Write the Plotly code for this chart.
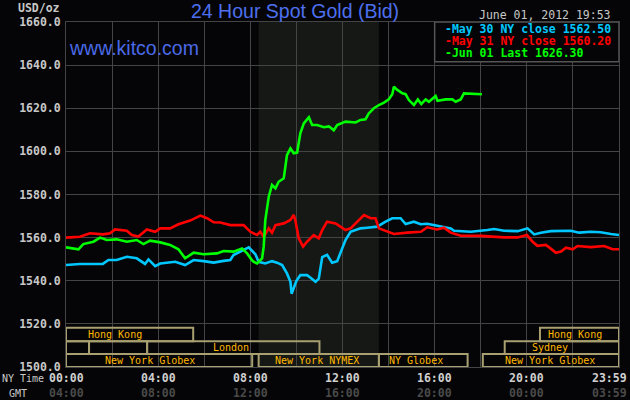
import plotly.graph_objects as go

# ---------------- data ----------------
may30_t = [0, 0.6, 1.6, 1.84, 2.2, 2.64, 3.07, 3.43, 3.58, 3.87, 4.09, 4.74, 5.17, 5.54, 5.97, 6.41,
           6.84, 7.13, 7.27, 7.57, 7.93, 8.22, 8.36, 8.65, 8.94, 9.16, 9.38, 9.59, 9.74, 9.79, 9.88,
           10.0, 10.17, 10.46, 10.6, 10.83, 10.97, 11.12, 11.33, 11.55, 11.77, 11.91, 12.13, 12.35,
           12.78, 13.07, 13.51, 13.87, 14.16, 14.52, 14.74, 15.1, 15.39, 15.68, 16.19, 16.7, 16.84,
           17.57, 18.29, 18.58, 19.01, 19.6, 20.03, 20.2, 20.32, 20.61, 21.04, 21.91, 22.27, 22.78,
           23.2, 23.65, 24]
may30_v = [1547.3, 1547.8, 1547.8, 1549.6, 1549.6, 1551.1, 1550.4, 1547.8, 1549.9, 1546.8, 1548.0,
           1548.8, 1547.3, 1549.6, 1549.1, 1548.4, 1549.2, 1549.6, 1551.9, 1553.5, 1555.5, 1552.3,
           1548.8, 1548.0, 1549.1, 1548.4, 1547.3, 1543.4, 1539.5, 1534.0, 1537.0, 1540.0, 1542.6,
           1542.6, 1541.5, 1539.5, 1541.0, 1551.0, 1552.0, 1548.4, 1549.1, 1552.7, 1558.9, 1562.7,
           1564.3, 1564.6, 1565.1, 1567.4, 1569.0, 1569.0, 1566.3, 1567.4, 1566.2, 1566.4, 1565.4,
           1564.3, 1563.2, 1562.7, 1563.5, 1564.0, 1563.2, 1563.0, 1564.3, 1562.7, 1561.5, 1562.3,
           1563.0, 1563.2, 1562.3, 1562.7, 1562.5, 1561.7, 1561.2]

may31_t = [0, 0.6, 1.04, 1.6, 1.91, 2.13, 2.64, 2.86, 3.14, 3.51, 3.87, 4.09, 4.52, 4.88, 5.39, 5.83,
           6.12, 6.41, 6.7, 7.13, 7.71, 8.0, 8.29, 8.43, 8.58, 8.8, 8.94, 9.09, 9.45, 9.74, 9.88,
           9.95, 10.1, 10.29, 10.46, 10.75, 10.97, 11.12, 11.33, 11.7, 11.91, 12.13, 12.35, 12.57,
           12.93, 13.22, 13.43, 13.58, 13.94, 14.23, 14.81, 15.4, 15.68, 16.1, 16.4, 16.7, 17.13,
           18.0, 19.01, 19.6, 20.0, 20.25, 20.46, 20.83, 21.12, 21.26, 21.48, 21.7, 21.99, 22.2,
           22.78, 23.36, 23.72, 24]
may31_v = [1560.0, 1560.4, 1562.0, 1561.5, 1562.0, 1563.8, 1563.2, 1561.2, 1560.5, 1563.8, 1562.7,
           1564.3, 1564.3, 1566.2, 1567.9, 1570.2, 1569.0, 1567.1, 1567.0, 1565.8, 1565.8, 1562.7,
           1561.2, 1562.7, 1560.4, 1564.3, 1562.3, 1565.8, 1566.6, 1568.2, 1570.5, 1568.2, 1559.7,
           1555.8, 1558.1, 1561.2, 1559.7, 1563.5, 1567.4, 1566.6, 1565.1, 1563.5, 1564.3, 1566.6,
           1570.5, 1569.0, 1569.0, 1564.3, 1562.7, 1561.7, 1562.3, 1562.7, 1564.8, 1563.8, 1564.6,
           1562.3, 1560.9, 1560.8, 1560.1, 1560.1, 1561.2, 1558.1, 1556.2, 1556.6, 1554.2, 1553.0,
           1553.6, 1555.3, 1554.6, 1556.1, 1555.6, 1556.1, 1554.6, 1554.6]

jun01_t = [0, 0.54, 0.75, 1.19, 1.48, 1.77, 2.2, 2.64, 3.07, 3.36, 3.65, 4.09, 4.52, 4.88, 5.17, 5.54,
           5.97, 6.55, 6.84, 7.27, 7.64, 7.86, 8.07, 8.14, 8.29, 8.51, 8.58, 8.65, 8.8, 8.94, 9.09,
           9.23, 9.45, 9.52, 9.59, 9.74, 9.88, 10.03, 10.17, 10.32, 10.54, 10.68, 10.9, 11.19, 11.41,
           11.62, 11.77, 12.13, 12.57, 12.78, 13.0, 13.14, 13.36, 13.58, 13.8, 14.01, 14.16, 14.23,
           14.38, 14.6, 14.74, 14.88, 15.1, 15.27, 15.42, 15.61, 15.75, 16.04, 16.12, 16.48, 16.77,
           16.91, 17.13, 17.27, 18.05]
jun01_v = [1555.5, 1554.6, 1557.0, 1558.1, 1560.0, 1558.9, 1559.2, 1558.1, 1558.9, 1557.0, 1558.6,
           1557.8, 1556.6, 1554.6, 1550.4, 1553.0, 1552.3, 1552.7, 1553.8, 1553.5, 1555.0, 1552.7,
           1549.6, 1548.8, 1548.0, 1550.4, 1555.8, 1568.2, 1579.0, 1584.4, 1582.9, 1585.9, 1587.5,
           1592.1, 1598.3, 1601.4, 1599.1, 1599.4, 1608.4, 1613.0, 1615.8, 1612.2, 1612.2, 1611.2,
           1611.6, 1609.8, 1612.2, 1613.8, 1613.4, 1614.6, 1614.9, 1617.6, 1620.0, 1621.5, 1622.6,
           1624.1, 1626.5, 1630.0, 1628.5, 1626.9, 1626.5, 1623.8, 1621.5, 1624.1, 1622.0, 1624.1,
           1623.0, 1625.7, 1623.5, 1624.1, 1624.1, 1623.0, 1624.1, 1626.9, 1626.5]

series_names = ["May 30 NY close 1562.50", "May 31 NY close 1560.20", "Jun 01 Last 1626.30"]
series_colors = ["#00c8ff", "#ff0000", "#00ff00"]

y_ticks = [1500, 1520, 1540, 1560, 1580, 1600, 1620, 1640, 1660]
ny_time_pos = [0, 4, 8, 12, 16, 20, 24]
ny_time_labels = ["00:00", "04:00", "08:00", "12:00", "16:00", "20:00", "23:59"]
gmt_labels = ["04:00", "08:00", "12:00", "16:00", "20:00", "00:00", "03:59"]

# market sessions: (row, start hour, end hour)
session_boxes = [(1, 0, 5.52), (1, 20.57, 24),
                 (2, 0, 1.0), (2, 1.0, 3.52), (2, 3.52, 11.0), (2, 19.04, 24),
                 (3, 0, 8.08), (3, 8.36, 13.58), (3, 13.58, 17.43), (3, 18.09, 24)]
session_labels = [(1, 2.13, "Hong Kong"), (1, 22.09, "Hong Kong"), (2, 7.17, "London"),
                  (2, 21.02, "Sydney"), (3, 3.65, "New York Globex"), (3, 10.9, "New York NYMEX"),
                  (3, 15.2, "NY Globex"), (3, 21.0, "New York Globex")]
row_ranges = {1: (1512, 1518.2), 2: (1506, 1512), 3: (1500, 1506)}
nymex_pit = (8.36, 13.58)

# ---------------- figure ----------------
MONO = "DejaVu Sans Mono"
GRID = "#444444"
BG = "#050507"

fig = go.Figure()
for t, v, c in zip([may30_t, may31_t, jun01_t], [may30_v, may31_v, jun01_v], series_colors):
    fig.add_trace(go.Scatter(x=t, y=v, mode="lines", line=dict(color=c, width=2.6),
                             hoverinfo="skip", showlegend=False))

shapes = []
shapes.append(dict(type="rect", xref="x", yref="y", x0=nymex_pit[0], x1=nymex_pit[1],
                   y0=1500, y1=1660, fillcolor="#151815", line=dict(width=0), layer="below"))
for row, a, b in session_boxes:
    y0, y1 = row_ranges[row]
    shapes.append(dict(type="rect", xref="x", yref="y", x0=a, x1=b, y0=y0, y1=y1,
                       fillcolor="rgba(0,0,0,0)", line=dict(color="#a8a070", width=2), layer="above"))
shapes.append(dict(type="rect", xref="x", yref="y", x0=16, x1=24, y0=1641.6, y1=1660,
                   fillcolor=BG, line=dict(color="#555555", width=1.5), layer="above"))

ann = []
for row, x, txt in session_labels:
    y0, y1 = row_ranges[row]
    ann.append(dict(x=x, y=(y0 + y1) / 2, xref="x", yref="y", text=txt, showarrow=False,
                    font=dict(family=MONO, size=10, color="#ffb800"), xanchor="center", yanchor="middle"))

for i, (name, c) in enumerate(zip(series_names, series_colors)):
    ann.append(dict(x=16.35, y=1656.9 - i * 5.7, xref="x", yref="y", text="-" + name, showarrow=False,
                    font=dict(family=MONO, size=11.5, color=c, weight="bold"),
                    xanchor="left", yanchor="middle"))

for p, ny, gmt in zip(ny_time_pos, ny_time_labels, gmt_labels):
    shift = -10 if p == 24 else 0
    ann.append(dict(x=p, y=-0.032, xref="x", yref="paper", text=ny, showarrow=False, xshift=shift,
                    font=dict(family=MONO, size=11.5, color="#d0d0d0", weight="bold"),
                    xanchor="center", yanchor="middle"))
    ann.append(dict(x=p, y=-0.076, xref="x", yref="paper", text=gmt, showarrow=False, xshift=shift,
                    font=dict(family=MONO, size=11.5, color="#4a4a4a", weight="bold"),
                    xanchor="center", yanchor="middle"))

ann.append(dict(x=-0.037, y=-0.032, xref="paper", yref="paper", text="NY Time", showarrow=False,
                font=dict(family=MONO, size=10, color="#c8c8c8"), xanchor="right", yanchor="middle"))
ann.append(dict(x=-0.067, y=-0.076, xref="paper", yref="paper", text="GMT", showarrow=False,
                font=dict(family=MONO, size=10, color="#c8c8c8"), xanchor="right", yanchor="middle"))
ann.append(dict(x=-0.008, y=1.041, xref="paper", yref="paper", text="USD/oz", showarrow=False,
                font=dict(family=MONO, size=11.5, color="#c8c8c8", weight="bold"),
                xanchor="right", yanchor="middle"))
ann.append(dict(x=0.415, y=1.032, xref="paper", yref="paper", text="24 Hour Spot Gold (Bid)",
                showarrow=False, font=dict(family="Liberation Sans", size=19.5, color="#4d70ee"),
                xanchor="center", yanchor="middle"))
ann.append(dict(x=0.002, y=0.924, xref="paper", yref="paper", text="www.kitco.com",
                showarrow=False, font=dict(family="Liberation Sans", size=19.5, color="#4a6ae8"),
                xanchor="left", yanchor="middle"))
ann.append(dict(x=0.99, y=1.02, xref="paper", yref="paper", text="June 01, 2012 19:53",
                showarrow=False, font=dict(family=MONO, size=11.5, color="#c8c8c8"),
                xanchor="right", yanchor="middle"))

fig.update_layout(
    width=630, height=400,
    margin=dict(l=66, r=11, t=22, b=33, autoexpand=False),
    paper_bgcolor=BG, plot_bgcolor=BG,
    showlegend=False,
    shapes=shapes, annotations=ann,
    xaxis=dict(range=[0, 24], tickvals=list(range(0, 25, 2)), showticklabels=False,
               showgrid=True, gridcolor=GRID, gridwidth=1, zeroline=False, automargin=False,
               showline=True, linecolor=GRID, mirror=True, fixedrange=True),
    yaxis=dict(range=[1500, 1660], tickvals=y_ticks, tickformat=".1f", automargin=False,
               showgrid=True, gridcolor=GRID, gridwidth=1, zeroline=False,
               showline=True, linecolor=GRID, mirror=True,
               ticks="outside", ticklen=2, tickcolor=BG,
               tickfont=dict(family=MONO, size=11.5, color="#c8c8c8", weight="bold"),
               fixedrange=True),
)

fig.write_html("out.html", config={"displayModeBar": False},
               post_script="document.body.style.margin='0';document.body.style.background='%s';" % BG)
